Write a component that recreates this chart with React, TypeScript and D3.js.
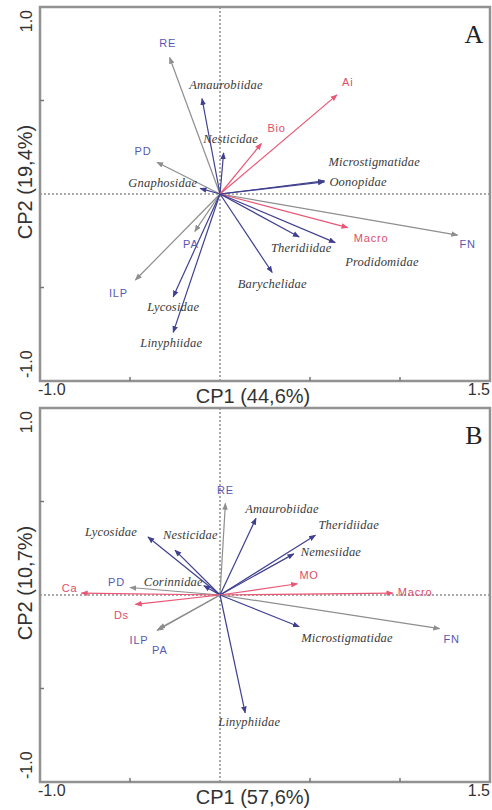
import React from "react";
import * as d3 from "d3";

// panel A — CP1 (44,6%) x CP2 (19,4%)
const varsA = ["RE", "Amaurobiidae", "Nesticidae", "PD", "Gnaphosidae", "Ai", "Bio", "Microstigmatidae", "Oonopidae", "FN", "Macro", "Prodidomidae", "Theridiidae", "Barychelidae", "PA", "ILP", "Lycosidae", "Linyphiidae"];
const cp1A = [-0.28, -0.1, 0.02, -0.35, -0.11, 0.65, 0.23, 0.58, 0.58, 1.32, 0.71, 0.64, 0.44, 0.29, -0.14, -0.47, -0.26, -0.26];
const cp2A = [0.73, 0.51, 0.22, 0.17, 0.03, 0.53, 0.27, 0.07, 0.065, -0.22, -0.18, -0.26, -0.23, -0.42, -0.2, -0.46, -0.55, -0.74];
const kindA = ["env", "fam", "fam", "env", "fam", "soil", "soil", "fam", "fam", "env", "soil", "fam", "fam", "fam", "env", "env", "fam", "fam"];

// panel B — CP1 (57,6%) x CP2 (10,7%)
const varsB = ["RE", "Amaurobiidae", "Theridiidae", "Nemesiidae", "MO", "Macro", "FN", "Microstigmatidae", "Linyphiidae", "Lycosidae", "Nesticidae", "PD", "Corinnidae", "Ca", "Ds", "ILP", "PA"];
const cp1B = [0.03, 0.2, 0.53, 0.41, 0.43, 0.96, 1.22, 0.44, 0.14, -0.4, -0.25, -0.5, -0.09, -0.77, -0.47, -0.35, -0.34];
const cp2B = [0.49, 0.41, 0.32, 0.22, 0.06, 0.01, -0.18, -0.17, -0.63, 0.31, 0.24, 0.04, 0.05, 0.01, -0.05, -0.19, -0.18];
const kindB = ["env", "fam", "fam", "fam", "soil", "soil", "env", "fam", "fam", "fam", "fam", "env", "fam", "soil", "soil", "env", "env"];

const xTicks = [-1.0, -0.5, 0, 0.5, 1.0, 1.5];
const yTicks = [-1.0, -0.5, 0, 0.5, 1.0];

// label offsets from the arrow tip (px) and anchor
const placeA: [number, number, string][] = [
  [-2, -10, "middle"], [24, -10, "middle"], [7, -10, "middle"], [-14, -7, "middle"],
  [-3, -1, "end"], [5, -9, "start"], [6, -12, "start"], [4, -15, "start"],
  [5, 4, "start"], [10, 13, "middle"], [6, 14, "start"], [10, 23, "start"],
  [2, 15, "middle"], [0, 15, "middle"], [-4, 17, "middle"], [-17, 17, "middle"],
  [0, 14, "middle"], [-2, 15, "middle"],
];
const placeB: [number, number, string][] = [
  [0, -9, "middle"], [26, -5, "middle"], [3, -6, "start"], [7, 2, "start"],
  [2, -5, "start"], [5, 3, "start"], [4, 14, "start"], [2, 15, "start"],
  [4, 13, "middle"], [-11, -1, "end"], [-12, -11, "start"], [-5, -2, "end"],
  [-1, 0, "end"], [-4, -1, "end"], [-14, 15, "middle"], [-18, 13, "middle"],
  [1, 25, "middle"],
];

const lineColor: Record<string, string> = { env: "#8e8e8e", fam: "#404090", soil: "#ea5674" };
const labelColor: Record<string, string> = { env: "#5858b4", fam: "#3a3a3a", soil: "#dc4e68" };

const left = 40;
const right = 490;
const fmt = (t: number) => d3.format(".1f")(t).replace("−", "-");

function Panel({ top, bottom, vars, xs, ys, kinds, place, letter, xTitle, yTitle }: any) {
  const x = d3.scaleLinear().domain([-1, 1.5]).range([left, right]);
  const y = d3.scaleLinear().domain([-1, 1]).range([bottom, top]);
  const sans = "'Liberation Sans', Arial, sans-serif";
  return (
    <g>
      {/* zero lines */}
      <line x1={left} x2={right} y1={y(0)} y2={y(0)} stroke="#555" strokeWidth={1} strokeDasharray="2,2" />
      <line x1={x(0)} x2={x(0)} y1={top} y2={bottom} stroke="#555" strokeWidth={1} strokeDasharray="2,2" />
      {/* vectors */}
      {vars.map((v: string, i: number) => (
        <line
          key={"l" + v + i}
          x1={x(0)}
          y1={y(0)}
          x2={x(xs[i])}
          y2={y(ys[i])}
          stroke={lineColor[kinds[i]]}
          strokeWidth={1.2}
          markerEnd={`url(#arr-${kinds[i]})`}
        />
      ))}
      {vars.map((v: string, i: number) => {
        const k = kinds[i];
        const fam = k === "fam";
        return (
          <text
            key={"t" + v + i}
            x={x(xs[i]) + place[i][0]}
            y={y(ys[i]) + place[i][1]}
            textAnchor={place[i][2]}
            fill={labelColor[k]}
            fontFamily={fam ? "'Liberation Serif', 'Times New Roman', serif" : sans}
            fontStyle={fam ? "italic" : "normal"}
            fontSize={fam ? 12.5 : 11}
            letterSpacing={fam ? 0.2 : 0.8}
          >
            {v}
          </text>
        );
      })}
      {/* frame */}
      <rect x={left} y={top} width={right - left} height={bottom - top} fill="none" stroke="#929292" strokeWidth={2.5} />
      {xTicks.slice(1, -1).filter((t) => t !== 0).map((t) => (
        <line key={"xt" + t} x1={x(t)} x2={x(t)} y1={bottom} y2={bottom - 4} stroke="#777" strokeWidth={1.5} />
      ))}
      {yTicks.slice(1, -1).filter((t) => t !== 0).map((t) => (
        <line key={"yt" + t} x1={left} x2={left + 4} y1={y(t)} y2={y(t)} stroke="#777" strokeWidth={1.5} />
      ))}
      {/* tick labels at the extremes */}
      <text x={x(xTicks[0]) - 2} y={bottom + 14} fontFamily={sans} fontSize={16} fill="#333">
        {fmt(xTicks[0])}
      </text>
      <text x={x(xTicks[xTicks.length - 1])} y={bottom + 14} textAnchor="end" fontFamily={sans} fontSize={16} fill="#333">
        {fmt(xTicks[xTicks.length - 1])}
      </text>
      <text transform={`translate(32,${y(yTicks[yTicks.length - 1]) + 3}) rotate(-90)`} textAnchor="end" fontFamily={sans} fontSize={16} fill="#333">
        {fmt(yTicks[yTicks.length - 1])}
      </text>
      <text transform={`translate(32,${y(yTicks[0]) - 3}) rotate(-90)`} textAnchor="start" fontFamily={sans} fontSize={16} fill="#333">
        {fmt(yTicks[0])}
      </text>
      {/* axis titles */}
      <text x={253} y={bottom + 22} textAnchor="middle" fontFamily={sans} fontSize={20} fill="#333">
        {xTitle}
      </text>
      <text transform={`translate(32,${y(0) - 12}) rotate(-90)`} textAnchor="middle" fontFamily={sans} fontSize={20} fill="#333">
        {yTitle}
      </text>
      <text x={474} y={top + 36} textAnchor="middle" fontFamily="'Liberation Serif', serif" fontSize={26} fill="#222">
        {letter}
      </text>
    </g>
  );
}

export default function App() {
  return (
    <svg width={492} height={810} style={{ position: "absolute", left: 0, top: 0, background: "#fff" }}>
      <defs>
        {Object.keys(lineColor).map((k) => (
          <marker key={k} id={`arr-${k}`} viewBox="0 0 10 10" refX={9} refY={5} markerWidth={7} markerHeight={7} markerUnits="userSpaceOnUse" orient="auto">
            <path d="M0,1 L10,5 L0,9 z" fill={lineColor[k]} />
          </marker>
        ))}
      </defs>
      <Panel top={7} bottom={381} vars={varsA} xs={cp1A} ys={cp2A} kinds={kindA} place={placeA} letter="A" xTitle="CP1 (44,6%)" yTitle="CP2 (19,4%)" />
      <Panel top={408} bottom={782} vars={varsB} xs={cp1B} ys={cp2B} kinds={kindB} place={placeB} letter="B" xTitle="CP1 (57,6%)" yTitle="CP2 (10,7%)" />
    </svg>
  );
}
